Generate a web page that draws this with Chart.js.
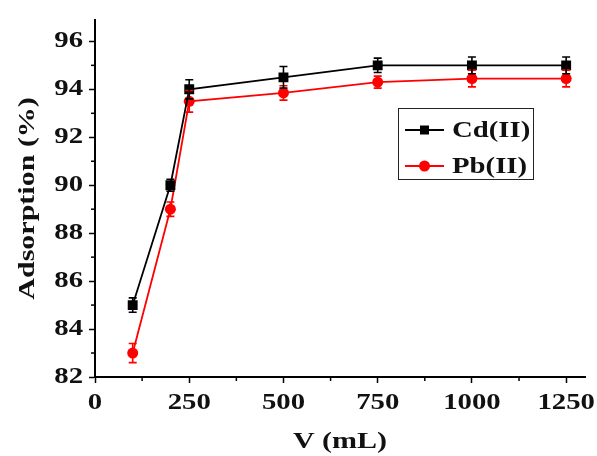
<!DOCTYPE html>
<html>
<head>
<meta charset="utf-8">
<script src="https://cdn.jsdelivr.net/npm/chart.js@4/dist/chart.umd.min.js"></script>
<style>
  html, body { margin: 0; padding: 0; background: #fff; }
  #wrap { width: 597px; height: 456px; }
</style>
</head>
<body>
<div id="wrap"><canvas id="grafico" width="597" height="456"></canvas></div>
<script>
// dati
const volumi = [100, 200, 250, 500, 750, 1000, 1250];
const cdAds = [85.0, 90.0, 94.0, 94.5, 95.0, 95.0, 95.0];
const cdErr = [0.3, 0.25, 0.4, 0.45, 0.3, 0.35, 0.35];
const pbAds = [83.0, 89.0, 93.5, 93.85, 94.3, 94.45, 94.45];
const pbErr = [0.4, 0.3, 0.45, 0.3, 0.25, 0.35, 0.35];
const xTicks = [0, 250, 500, 750, 1000, 1250];
const xMinor = [125, 375, 625, 875, 1125];
const yTicks = [82, 84, 86, 88, 90, 92, 94, 96];
const yMinor = [83, 85, 87, 89, 91, 93, 95];
const nomi = ["Cd(II)", "Pb(II)"];

const ROSSO = "rgb(255, 0, 0)";
const FONT = "'Liberation Serif', 'Times New Roman', serif";

// il testo dell'originale è più largo: allarghiamo orizzontalmente ogni fillText
const testoLargo = {
    id: "testoLargo",
    beforeDraw(chart) {
        const ctx = chart.ctx;
        if (ctx._largo) return;
        const orig = ctx.fillText.bind(ctx);
        ctx.fillText = function (t, x, y) {
            ctx.save();
            ctx.translate(x, y);
            ctx.scale(1.25, 1);
            orig(t, 0, 0);
            ctx.restore();
        };
        ctx._largo = true;
    }
};

// tacche secondarie (più corte)
const tacche = {
    id: "tacche",
    afterDraw(chart) {
        const ctx = chart.ctx;
        const xs = chart.scales.x, ys = chart.scales.y;
        const area = chart.chartArea;
        ctx.save();
        ctx.strokeStyle = "#000";
        ctx.lineWidth = 1.5;
        xMinor.forEach(v => {
            const px = xs.getPixelForValue(v);
            ctx.beginPath();
            ctx.moveTo(px, area.bottom);
            ctx.lineTo(px, area.bottom + 4);
            ctx.stroke();
        });
        yMinor.forEach(v => {
            const py = ys.getPixelForValue(v);
            ctx.beginPath();
            ctx.moveTo(area.left, py);
            ctx.lineTo(area.left - 4, py);
            ctx.stroke();
        });
        ctx.restore();
    }
};

// barre di errore
const barreErrore = {
    id: "barreErrore",
    afterDatasetsDraw(chart) {
        const ctx = chart.ctx;
        const xs = chart.scales.x, ys = chart.scales.y;
        const errori = [cdErr, pbErr];
        ctx.save();
        [1, 0].forEach(i => {
            const ds = chart.data.datasets[i];
            ctx.strokeStyle = ds.borderColor;
            ctx.lineWidth = 1.6;
            ds.data.forEach((p, j) => {
                const px = xs.getPixelForValue(p.x);
                const top = ys.getPixelForValue(p.y + errori[i][j]);
                const bot = ys.getPixelForValue(p.y - errori[i][j]);
                ctx.beginPath();
                ctx.moveTo(px, top); ctx.lineTo(px, bot);
                ctx.moveTo(px - 4, top); ctx.lineTo(px + 4, top);
                ctx.moveTo(px - 4, bot); ctx.lineTo(px + 4, bot);
                ctx.stroke();
            });
        });
        ctx.restore();
    }
};

// legenda dentro l'area del grafico, con riquadro
const legenda = {
    id: "legenda",
    afterDraw(chart) {
        const ctx = chart.ctx;
        ctx.save();
        ctx.strokeStyle = "#222";
        ctx.lineWidth = 1;
        ctx.strokeRect(398.5, 108.5, 135, 71);
        const righe = [130, 166];
        chart.data.datasets.forEach((ds, i) => {
            const y = righe[i];
            ctx.strokeStyle = ds.borderColor;
            ctx.lineWidth = 1.8;
            ctx.beginPath();
            ctx.moveTo(405, y); ctx.lineTo(444, y);
            ctx.stroke();
            ctx.fillStyle = ds.backgroundColor;
            if (ds.pointStyle === "rect") {
                ctx.fillRect(420, y - 4.5, 9, 9);
            } else {
                ctx.beginPath();
                ctx.arc(424.5, y, 5.5, 0, Math.PI * 2);
                ctx.fill();
            }
            ctx.fillStyle = "#111";
            ctx.font = "bold 23px " + FONT;
            ctx.textAlign = "left";
            ctx.textBaseline = "middle";
            ctx.fillText(nomi[i], 452, y + 1);
        });
        ctx.restore();
    }
};

new Chart(document.getElementById("grafico"), {
    type: "line",
    data: {
        datasets: [
            {
                label: nomi[0],
                data: volumi.map((v, i) => ({ x: v, y: cdAds[i] })),
                borderColor: "#000",
                backgroundColor: "#000",
                borderWidth: 1.8,
                pointStyle: "rect",
                pointRadius: 7,
                pointBorderWidth: 0,
                tension: 0
            },
            {
                label: nomi[1],
                data: volumi.map((v, i) => ({ x: v, y: pbAds[i] })),
                borderColor: ROSSO,
                backgroundColor: ROSSO,
                borderWidth: 1.8,
                pointStyle: "circle",
                pointRadius: 5.5,
                pointBorderWidth: 0,
                tension: 0
            }
        ]
    },
    options: {
        responsive: false,
        animation: false,
        layout: { padding: { top: 15, right: 12, left: 0, bottom: 0 } },
        plugins: {
            legend: { display: false },
            tooltip: { enabled: false }
        },
        scales: {
            x: {
                type: "linear",
                min: 0,
                max: 1300,
                afterBuildTicks: s => { s.ticks = xTicks.map(v => ({ value: v })); },
                afterFit: s => { s.height = 79; },
                border: { display: true, color: "#000", width: 2 },
                grid: { drawOnChartArea: false, drawTicks: true, tickLength: 6, tickColor: "#000", tickWidth: 1.5 },
                ticks: {
                    color: "#111",
                    padding: 6,
                    callback: v => String(v),
                    font: { family: FONT, size: 23, weight: "bold" }
                },
                title: {
                    display: true,
                    text: "V (mL)",
                    color: "#111",
                    padding: { top: 0, bottom: 0 },
                    font: { family: FONT, size: 24, weight: "bold" }
                }
            },
            y: {
                type: "linear",
                min: 82,
                max: 96.9,
                afterBuildTicks: s => { s.ticks = yTicks.map(v => ({ value: v })); },
                afterFit: s => { s.width = 95; },
                border: { display: true, color: "#000", width: 2 },
                grid: { drawOnChartArea: false, drawTicks: true, tickLength: 6, tickColor: "#000", tickWidth: 1.5 },
                ticks: {
                    color: "#111",
                    padding: 6,
                    callback: v => String(v),
                    font: { family: FONT, size: 23, weight: "bold" }
                },
                title: {
                    display: true,
                    text: "Adsorption (%)",
                    color: "#111",
                    padding: { top: 13, bottom: 0 },
                    font: { family: FONT, size: 24, weight: "bold" }
                }
            }
        }
    },
    plugins: [testoLargo, barreErrore, tacche, legenda]
});
</script>
</body>
</html>
